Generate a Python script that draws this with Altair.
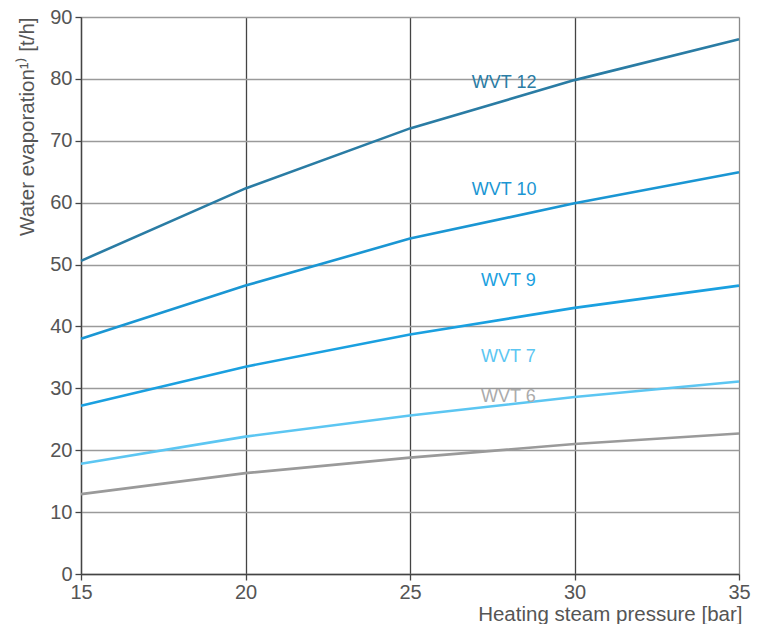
import altair as alt
import pandas as pd

pressure = [15, 20, 25, 30, 35]
wvt12 = [50.6, 62.3, 72.0, 79.8, 86.4]
wvt10 = [38.0, 46.6, 54.2, 59.9, 64.9]
wvt9 = [27.2, 33.5, 38.7, 43.0, 46.6]
wvt7 = [17.8, 22.2, 25.6, 28.6, 31.1]
wvt6 = [12.9, 16.3, 18.8, 21.0, 22.7]

series_names = ["WVT 12", "WVT 10", "WVT 9", "WVT 7", "WVT 6"]
series_colors = ["#2a7ca4", "#1a96d3", "#1aa0e0", "#5cc6f2", "#9a9a9a"]
label_colors = ["#2a7ca4", "#1a96d3", "#1aa0e0", "#5cc6f2", "#ababab"]
label_x = [26.88, 26.88, 27.16, 27.16, 27.16]
label_y = [79.3, 62.0, 47.3, 35.0, 28.6]

rows = []
for name, vals in zip(series_names, [wvt12, wvt10, wvt9, wvt7, wvt6]):
    for p, v in zip(pressure, vals):
        rows.append({"series": name, "p": p, "v": v})
df = pd.DataFrame(rows)
lab = pd.DataFrame({"series": series_names, "p": label_x, "v": label_y})

FONT = "Liberation Sans"

xscale = alt.Scale(domain=[15, 35], nice=False)
yscale = alt.Scale(domain=[0, 90], nice=False)

lines = alt.Chart(df).mark_line(strokeWidth=2.6).encode(
    x=alt.X("p:Q", scale=xscale, axis=alt.Axis(
        values=[15, 20, 25, 30, 35], title="Heating steam pressure [bar]",
        grid=True, gridColor=alt.condition("datum.value == 35", alt.value("#8a8a8a"), alt.value("#444444")),
        gridWidth=1.3, domainColor="#444444", domainWidth=1.3,
        tickColor="#444444", tickSize=6, tickWidth=1.3, labelFlush=False,
        labelFontSize=20, labelColor="#555555", labelFont=FONT, labelPadding=2,
        titleFontSize=20.5, titleColor="#555555", titleFont=FONT, titleFontWeight="normal",
        titleAnchor="end", titleAlign="right", titleX=661, titleY=46, titleBaseline="alphabetic",
    )),
    y=alt.Y("v:Q", scale=yscale, axis=alt.Axis(
        values=[0, 10, 20, 30, 40, 50, 60, 70, 80, 90], title="Water evaporation¹⁾ [t/h]",
        grid=True, gridColor="#9a9a9a", gridWidth=1.3, domainColor="#444444", domainWidth=1.3,
        tickColor="#444444", tickSize=6, tickWidth=1.3, labelFlush=False,
        labelFontSize=20, labelColor="#555555", labelFont=FONT, labelPadding=3,
        titleFontSize=20.5, titleColor="#555555", titleFont=FONT, titleFontWeight="normal",
        titleAnchor="end", titleAlign="right", titleAngle=270, titleX=-44, titleY=0,
        titleBaseline="bottom",
    )),
    color=alt.Color("series:N", scale=alt.Scale(domain=series_names, range=series_colors), legend=None),
    detail="series:N",
)

labels = alt.Chart(lab).mark_text(align="left", baseline="middle", fontSize=18, font=FONT).encode(
    x=alt.X("p:Q", scale=xscale),
    y=alt.Y("v:Q", scale=yscale),
    text="series:N",
    color=alt.Color("series:N", scale=alt.Scale(domain=series_names, range=label_colors), legend=None),
)

chart = alt.layer(lines, labels).resolve_scale(color="independent").properties(
    width=658, height=557,
    autosize=alt.AutoSizeParams(type="none"),
    padding={"left": 73, "top": 9, "right": 16, "bottom": 50},
).configure_view(stroke=None).configure(background="white")

chart.save("out.html", embed_options={"renderer": "svg", "actions": False})
